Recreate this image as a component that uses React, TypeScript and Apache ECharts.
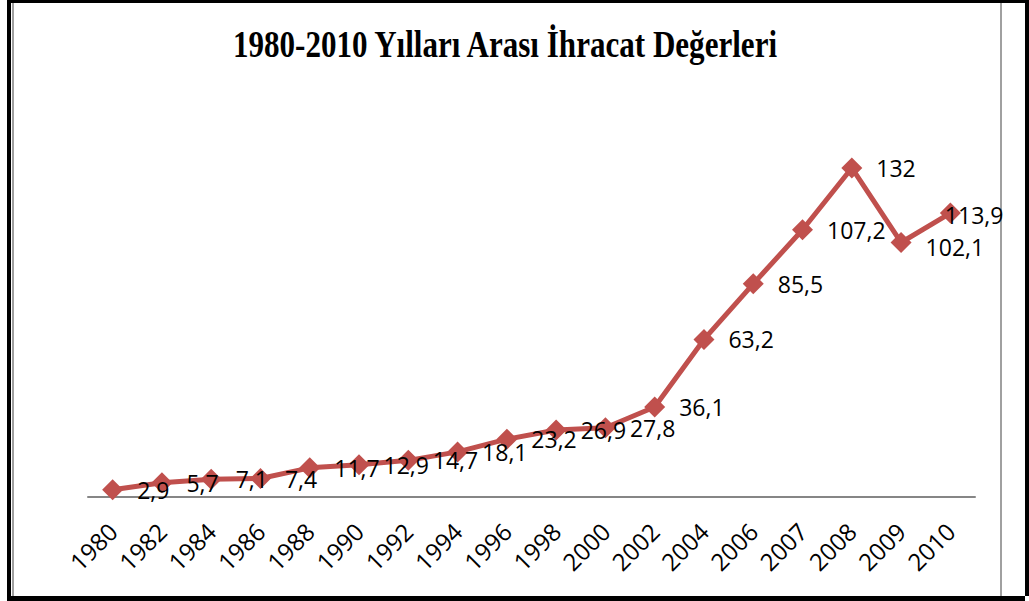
import React, { useEffect, useRef } from "react";
import * as echarts from "echarts";

const years = ["1980","1982","1984","1986","1988","1990","1992","1994","1996","1998","2000","2002","2004","2006","2007","2008","2009","2010"];
const exports = [2.9, 5.7, 7.1, 7.4, 11.7, 12.9, 14.7, 18.1, 23.2, 26.9, 27.8, 36.1, 63.2, 85.5, 107.2, 132, 102.1, 113.9];
const titleText = "1980-2010 Yılları Arası İhracat Değerleri";

export default function App() {
  const ref = useRef<HTMLDivElement>(null);
  useEffect(() => {
    if (!ref.current) return;
    const chart = echarts.init(ref.current, null, { renderer: "svg" });
    const data = exports.map((v, i) => {
      if (i === exports.length - 1) {
        return { value: v, label: { distance: -16, offset: [0, 2] } };
      }
      if (i === exports.length - 2) {
        return { value: v, label: { offset: [0, 5] } };
      }
      return { value: v };
    });
    chart.setOption({
      animation: false,
      backgroundColor: "#ffffff",
      grid: { left: 88, right: 54, top: 148, height: 349, containLabel: false },
      xAxis: {
        type: "category",
        data: years,
        boundaryGap: true,
        axisLine: { lineStyle: { color: "#868686", width: 2 } },
        axisTick: { show: false },
        axisLabel: {
          rotate: 45,
          margin: 30,
          fontFamily: "Open Sans",
          fontSize: 24,
          color: "#000",
          interval: 0,
        },
      },
      yAxis: {
        type: "value",
        min: 0,
        max: 140,
        show: false,
        splitLine: { show: false },
      },
      series: [
        {
          type: "line",
          data,
          symbol: "diamond",
          symbolSize: 21,
          itemStyle: { color: "#C0504D" },
          lineStyle: { color: "#C0504D", width: 5 },
          label: {
            show: true,
            position: "right",
            distance: 14,
            fontFamily: "Open Sans",
            fontSize: 23,
            color: "#000",
            formatter: (p: any) => String(p.value).replace(".", ","),
          },
        },
      ],
      graphic: [
        { type: "rect", shape: { x: 12, y: 3, width: 2, height: 593 }, style: { fill: "#a0a0a0" } },
        { type: "rect", shape: { x: 1000, y: 3, width: 2, height: 593 }, style: { fill: "#a0a0a0" } },
        { type: "rect", shape: { x: 7, y: 0, width: 1022, height: 3 }, style: { fill: "#000" } },
        { type: "rect", shape: { x: 7, y: 0, width: 4, height: 601 }, style: { fill: "#000" } },
        { type: "rect", shape: { x: 1025, y: 0, width: 4, height: 596 }, style: { fill: "#000" } },
        { type: "rect", shape: { x: 7, y: 596, width: 1018, height: 5 }, style: { fill: "#000" } },
        {
          type: "text",
          x: 505,
          y: 45,
          scaleX: 0.84,
          style: {
            text: titleText,
            fontFamily: "Liberation Serif",
            fontWeight: "bold",
            fontSize: 37,
            fill: "#000",
            textAlign: "center",
            textVerticalAlign: "middle",
          },
        },
      ],
    });
    return () => chart.dispose();
  }, []);
  return (
    <div
      ref={ref}
      style={{ position: "fixed", left: 0, top: 0, width: 1029, height: 601, background: "#fff" }}
    />
  );
}
